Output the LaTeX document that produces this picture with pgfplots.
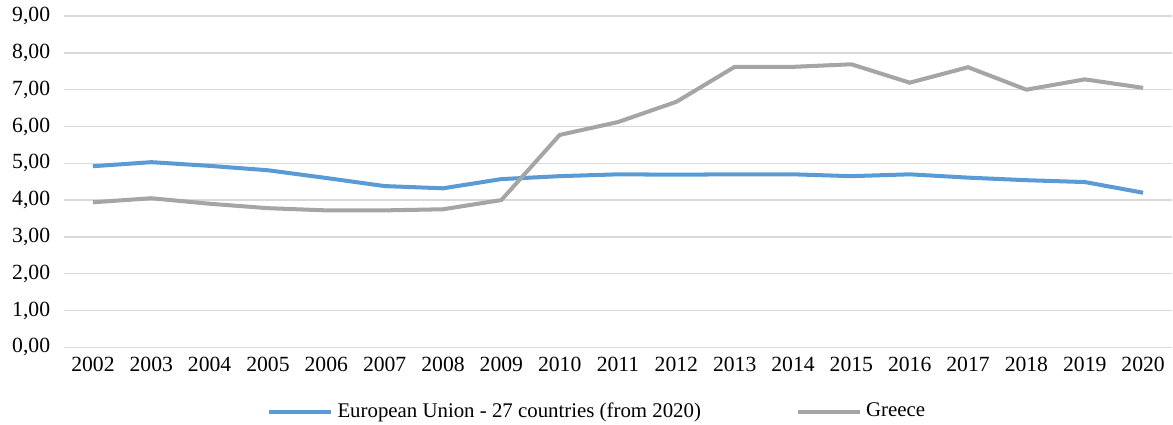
\documentclass[border=0pt]{standalone}
\usepackage{fontspec}
\setmainfont{Liberation Serif}
\usepackage{pgfplots}
\pgfplotsset{compat=1.18}
\definecolor{eublue}{RGB}{91,155,213}
\definecolor{grgray}{RGB}{165,165,165}
\definecolor{gridc}{RGB}{217,217,217}
\begin{document}
\fontsize{10.75}{13}\selectfont
\begin{tikzpicture}
\begin{axis}[
  scale only axis,
  width=550.5pt, height=164.5pt,
  xmin=-0.5, xmax=18.5, ymin=0, ymax=9,
  xtick={0,...,18},
  xticklabels={2002,2003,2004,2005,2006,2007,2008,2009,2010,2011,2012,2013,2014,2015,2016,2017,2018,2019,2020},
  ytick={0,1,...,9},
  yticklabels={{0,00},{1,00},{2,00},{3,00},{4,00},{5,00},{6,00},{7,00},{8,00},{9,00}},
  axis line style={draw=none},
  major tick length=0pt,
  ymajorgrids,
  grid style={color=gridc, line width=0.75pt},
  tick label style={font=\fontsize{10.75}{13}\selectfont},
  yticklabel style={xshift=-3pt},
  xticklabel style={yshift=-1pt},
  /pgf/number format/assume math mode=true,
  legend columns=2,
  legend style={draw=none, at={(0.482,-0.1945)}, anchor=center,
    font=\fontsize{10.35}{13}\selectfont,
    /tikz/every even column/.append style={column sep=45pt},
    inner sep=0pt},
  legend cell align=left,
  legend image code/.code={\draw[#1] (0pt,0pt) -- (31pt,0pt);},
]
\addplot[eublue, line width=2pt] coordinates {
(0,4.92) (1,5.03) (2,4.93) (3,4.81) (4,4.60) (5,4.38) (6,4.32) (7,4.57) (8,4.65) (9,4.70)
(10,4.69) (11,4.70) (12,4.70) (13,4.65) (14,4.70) (15,4.61) (16,4.54) (17,4.49) (18,4.20)};
\addlegendentry{European Union - 27 countries (from 2020)}
\addplot[grgray, line width=2pt] coordinates {
(0,3.94) (1,4.05) (2,3.90) (3,3.78) (4,3.72) (5,3.72) (6,3.75) (7,4.00) (8,5.77) (9,6.12)
(10,6.67) (11,7.62) (12,7.62) (13,7.69) (14,7.19) (15,7.61) (16,7.00) (17,7.28) (18,7.05)};
\addlegendentry{Greece}
\end{axis}
\path ([xshift=-2.5pt]current bounding box.west);
\end{tikzpicture}
\end{document}
